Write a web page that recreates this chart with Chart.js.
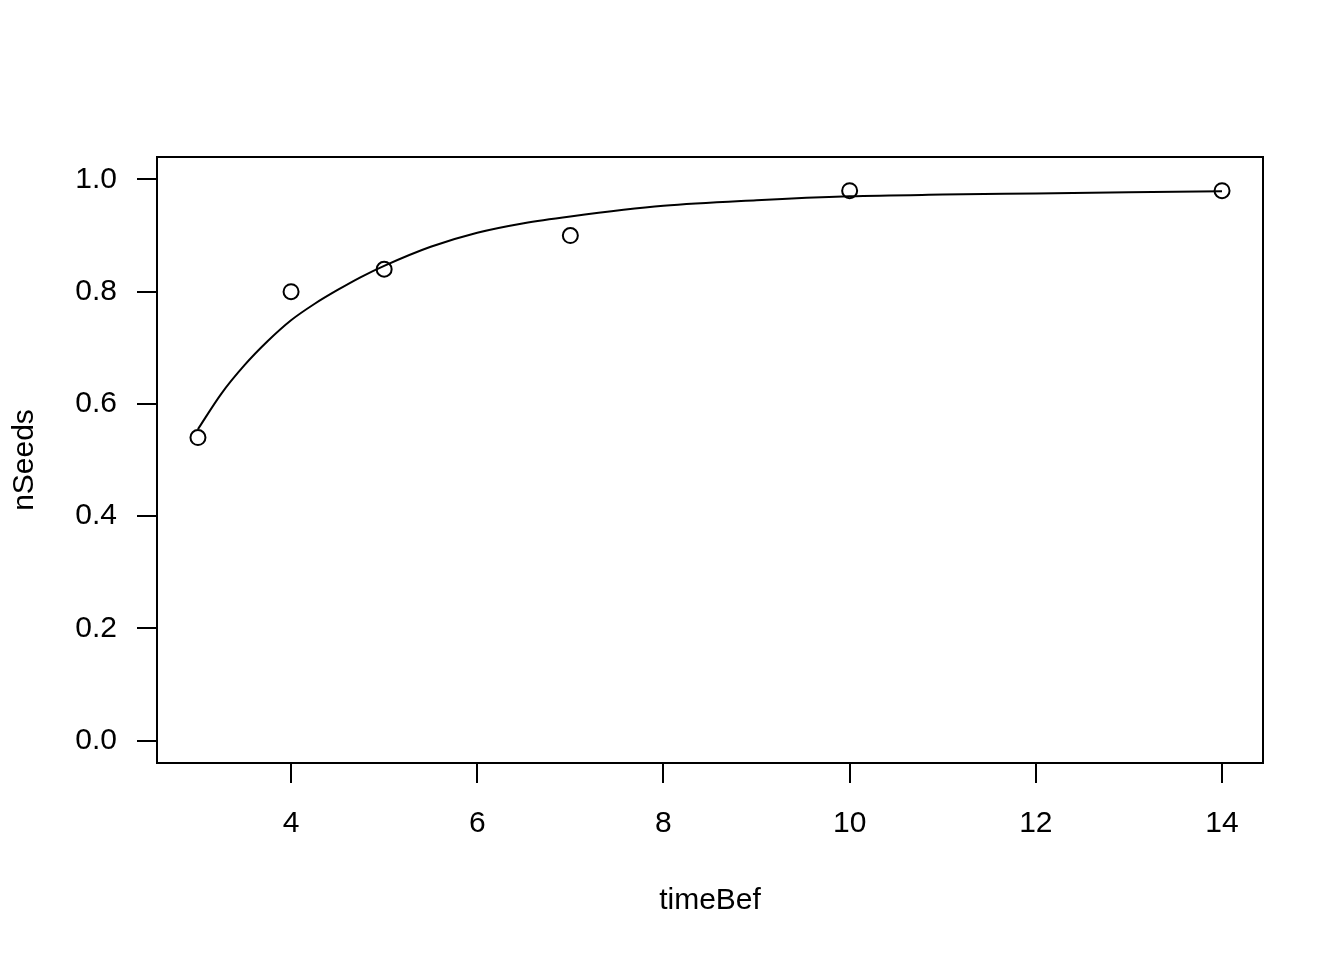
<!DOCTYPE html>
<html>
<head>
<meta charset="utf-8">
<script src="https://cdn.jsdelivr.net/npm/chart.js@4.4.1/dist/chart.umd.min.js"></script>
<style>
    html, body { margin: 0; padding: 0; background: #ffffff; }
    canvas { display: block; }
</style>
</head>
<body>
<canvas id="seedChart" width="1344" height="960"></canvas>
<script>
// observed points
const timeBef = [3, 4, 5, 7, 10, 14];
const nSeeds = [0.54, 0.80, 0.84, 0.90, 0.98, 0.98];

// fitted curve
const curveX = [3, 3.25, 3.5, 3.75, 4, 4.25, 4.5, 4.75, 5, 5.5, 6, 6.5, 7, 8, 9, 10, 11, 12, 13, 14];
const curveY = [0.555, 0.618, 0.669, 0.712, 0.749, 0.778, 0.803, 0.826, 0.846, 0.880, 0.905, 0.922, 0.934, 0.953, 0.963, 0.970, 0.973, 0.975, 0.977, 0.979];

// tick labels
const xTicks = [4, 6, 8, 10, 12, 14];
const yTicks = [0, 0.2, 0.4, 0.6, 0.8, 1.0];

const fontFamily = '"Liberation Sans", Arial, Helvetica, sans-serif';

// R-style box around the plot region
const boxPlugin = {
    id: 'plotBox',
    afterDraw(chart) {
        const { ctx, chartArea } = chart;
        ctx.save();
        ctx.strokeStyle = '#000000';
        ctx.lineWidth = 2;
        ctx.strokeRect(chartArea.left, chartArea.top,
            chartArea.right - chartArea.left, chartArea.bottom - chartArea.top);
        ctx.restore();
    }
};

const ctx = document.getElementById('seedChart').getContext('2d');
const seedChart = new Chart(ctx, {
    type: 'scatter',
    data: {
        datasets: [{
            label: 'fit',
            data: curveX.map((x, i) => ({ x: x, y: curveY[i] })),
            showLine: true,
            borderColor: '#000000',
            borderWidth: 2,
            pointRadius: 0,
            cubicInterpolationMode: 'monotone',
            fill: false
        }, {
            label: 'nSeeds',
            data: timeBef.map((x, i) => ({ x: x, y: nSeeds[i] })),
            showLine: false,
            pointStyle: 'circle',
            pointRadius: 7.5,
            pointBorderWidth: 2,
            pointBorderColor: '#000000',
            pointBackgroundColor: 'rgba(0,0,0,0)'
        }]
    },
    options: {
        responsive: false,
        animation: false,
        layout: {
            padding: { top: 157, right: 81, left: 0, bottom: 0 }
        },
        plugins: {
            legend: { display: false },
            tooltip: { enabled: false }
        },
        scales: {
            x: {
                type: 'linear',
                min: 2.56,
                max: 14.44,
                afterBuildTicks: (scale) => {
                    scale.ticks = xTicks.map((v) => ({ value: v }));
                },
                afterFit: (scale) => { scale.height = 197; },
                border: { display: false },
                grid: {
                    drawOnChartArea: false,
                    drawTicks: true,
                    tickLength: 20,
                    color: '#000000',
                    lineWidth: 2
                },
                ticks: {
                    color: '#000000',
                    padding: 23,
                    maxRotation: 0,
                    font: { family: fontFamily, size: 30 },
                    callback: (v) => String(v)
                },
                title: {
                    display: true,
                    text: 'timeBef',
                    color: '#000000',
                    padding: { top: 0, bottom: 41 },
                    font: { family: fontFamily, size: 30 }
                }
            },
            y: {
                type: 'linear',
                min: -0.04,
                max: 1.04,
                afterBuildTicks: (scale) => {
                    scale.ticks = yTicks.map((v) => ({ value: v }));
                },
                afterFit: (scale) => { scale.width = 157; },
                border: { display: false },
                grid: {
                    drawOnChartArea: false,
                    drawTicks: true,
                    tickLength: 20,
                    color: '#000000',
                    lineWidth: 2
                },
                ticks: {
                    color: '#000000',
                    padding: 20,
                    font: { family: fontFamily, size: 30 },
                    callback: (v) => Number(v).toFixed(1)
                },
                title: {
                    display: true,
                    text: 'nSeeds',
                    color: '#000000',
                    padding: { top: 7, bottom: 0 },
                    font: { family: fontFamily, size: 30 }
                }
            }
        }
    },
    plugins: [boxPlugin]
});
</script>
</body>
</html>
